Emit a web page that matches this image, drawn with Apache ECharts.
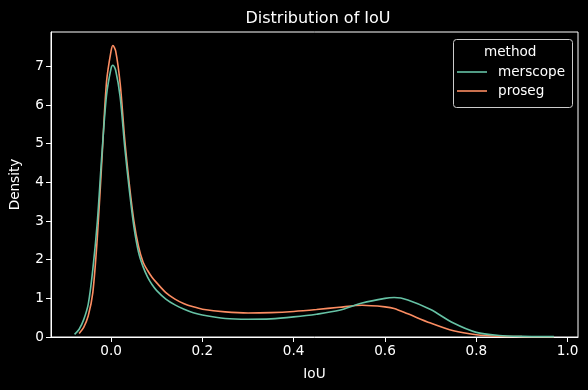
<!DOCTYPE html>
<html>
<head>
<meta charset="utf-8">
<script src="https://cdn.jsdelivr.net/npm/echarts@6/dist/echarts.min.js"></script>
<style>html,body{margin:0;padding:0;background:#000;}#c{width:588px;height:390px;}</style>
</head>
<body>
<div id="c"></div>
<script>
const xGrid = [-0.08,-0.07,-0.06,-0.05,-0.04,-0.03,-0.02,-0.01,0,0.004,0.01,0.02,0.03,0.04,0.05,0.06,0.07,0.08,0.09,0.1,0.12,0.14,0.16,0.18,0.2,0.25,0.3,0.35,0.4,0.45,0.5,0.55,0.6,0.62,0.65,0.7,0.75,0.8,0.85,0.9,0.95,0.97];
const merscope = [0.07,0.2,0.45,0.85,1.75,3.0,4.75,6.25,6.95,7.03,6.9,6.2,4.9,3.8,2.85,2.2,1.82,1.55,1.35,1.2,0.98,0.83,0.72,0.63,0.57,0.48,0.46,0.47,0.52,0.59,0.69,0.88,1.0,1.02,0.96,0.71,0.36,0.12,0.04,0.015,0.01,0.01];
const proseg = [null,0.09,0.25,0.55,1.15,2.6,4.6,6.6,7.4,7.54,7.4,6.55,5.1,3.95,3.0,2.35,1.94,1.72,1.54,1.4,1.15,0.98,0.86,0.78,0.72,0.65,0.62,0.63,0.66,0.71,0.77,0.82,0.78,0.74,0.6,0.36,0.16,0.06,0.02,0.01,0.005,0.005];
const xTicks = [0,0.2,0.4,0.6,0.8,1.0];
const yTicks = [0,1,2,3,4,5,6,7];
const seriesNames = ['merscope','proseg'];
const colors = ['#66c2a5','#fc8d62'];

const pair = arr => xGrid.map((x,i)=> arr[i]==null ? null : [x, arr[i]]).filter(p=>p);
const font = 'DejaVu Sans';
const chart = echarts.init(document.getElementById('c'));
chart.setOption({
  backgroundColor:'#000',
  animation:false,
  title:{text:'Distribution of IoU',left:313,textAlign:'center',top:6,
    textStyle:{color:'#fff',fontFamily:font,fontSize:16,fontWeight:'normal'}},
  grid:{left:48,right:10,top:32,bottom:53,show:true,borderColor:'#fff',borderWidth:1,backgroundColor:'transparent'},
  xAxis:{type:'value',min:-0.1316,max:1.0228,
    name:'IoU',nameLocation:'middle',nameGap:30,
    nameTextStyle:{color:'#fff',fontFamily:font,fontSize:13.6},
    axisLine:{show:true,onZero:false,lineStyle:{color:'#fff',width:1}},
    axisTick:{show:true,length:5,lineStyle:{color:'#fff'},customValues:xTicks},
    axisLabel:{color:'#fff',fontFamily:font,fontSize:13.6,margin:7,customValues:xTicks,formatter:v=>v.toFixed(1)},
    splitLine:{show:false}},
  yAxis:{type:'value',min:0,max:7.89,
    name:'Density',nameLocation:'middle',nameGap:29,
    nameTextStyle:{color:'#fff',fontFamily:font,fontSize:13.6},
    axisLine:{show:true,onZero:false,lineStyle:{color:'#fff',width:1}},
    axisTick:{show:true,length:5,lineStyle:{color:'#fff'},customValues:yTicks},
    axisLabel:{color:'#fff',fontFamily:font,fontSize:13.6,margin:7,customValues:yTicks,formatter:v=>String(v)},
    splitLine:{show:false}},
  legend:{orient:'vertical',left:457,top:65,itemWidth:30,itemHeight:14,itemGap:5,padding:0,
    icon:'path://M0,0 H30 V1.6 H0 Z',symbolKeepAspect:true,
    data:seriesNames,
    textStyle:{color:'#fff',fontFamily:font,fontSize:13.6,padding:[0,0,0,6]}},
  graphic:[
    {type:'rect',left:453,top:39,shape:{width:119,height:68,r:3},
      style:{fill:'rgba(0,0,0,0.8)',stroke:'#cccccc',lineWidth:1},z:0},
    {type:'text',left:484,top:45,
      style:{text:'method',fill:'#fff',font:'13.6px "DejaVu Sans"'},z:1}
  ],
  series: seriesNames.map((n,i)=>({
    name:n,type:'line',data:pair(i===0?merscope:proseg),smooth:0.3,
    symbol:'none',showSymbol:false,color:colors[i],
    lineStyle:{color:colors[i],width:1.6}, z: i===0?3:2
  }))
});
</script>
</body>
</html>
